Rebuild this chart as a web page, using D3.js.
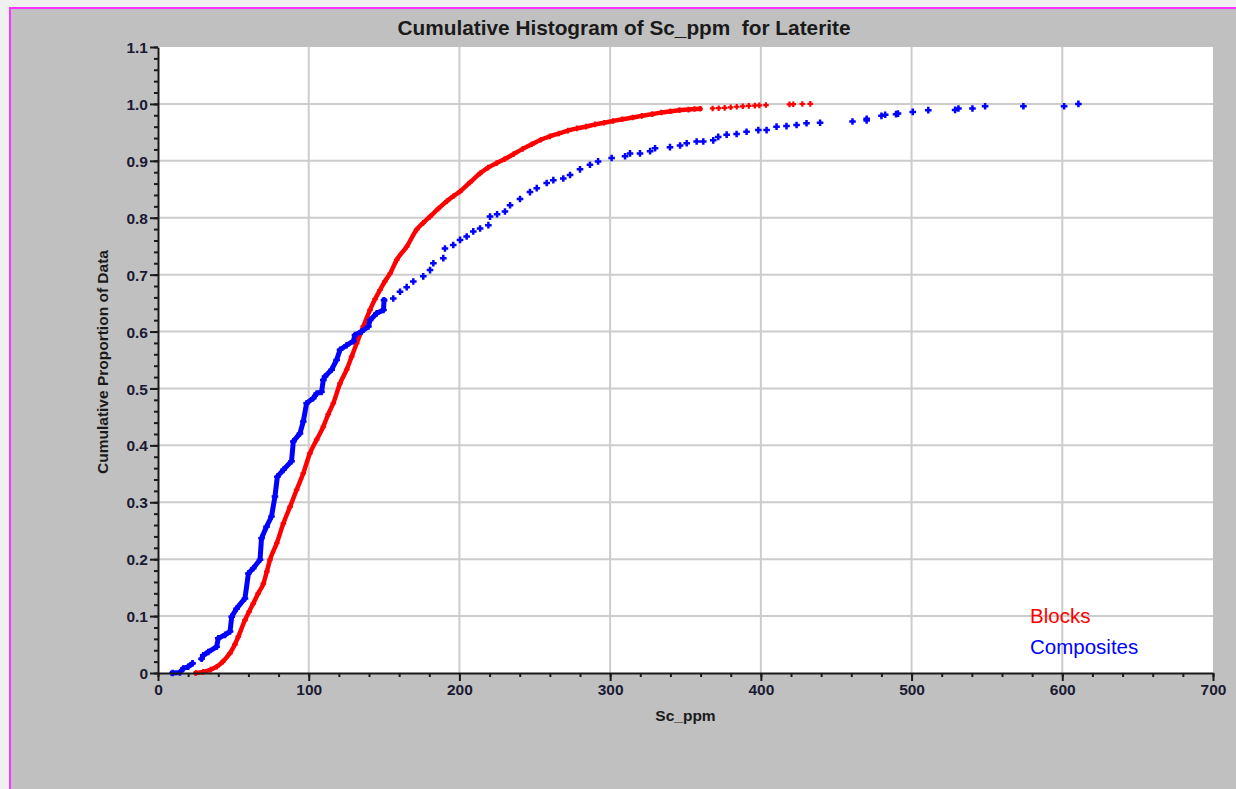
<!DOCTYPE html>
<html>
<head>
<meta charset="utf-8">
<script src="https://cdn.jsdelivr.net/npm/d3@7"></script>
<style>
  html, body { margin: 0; padding: 0; background: #c0c0c0; }
  svg { display: block; }
</style>
</head>
<body>
<svg id="chart" width="1236" height="789"></svg>
<script>
// Sc_ppm value and cumulative proportion for block model estimates
const blocksSc = [
  25.2, 30, 35, 39, 43, 47.8, 51, 53.3, 57.7, 60.5, 63.2, 66.5, 69.9, 72.2, 74.3,
  78.8, 83.2, 87.6, 92, 96.4, 100.8, 105.3, 109.7, 113, 116.3, 120.8, 125.2, 128.5,
  131.8, 136.2, 140.7, 144, 147.3, 150.5, 154, 158.4, 165, 171.6, 176, 180.5, 186,
  191.6, 196, 200.4, 207, 213.7, 219, 224.7, 230, 236, 242, 248, 254, 260, 266, 272,
  278, 284, 290, 296, 302, 308, 315, 321, 328, 334, 340, 346, 352, 356, 359.6,
  368, 372, 376, 380, 384, 388, 392, 396, 399, 403.4, 419, 421.5, 427.5, 432.8
];
const blocksProp = [
  0, 0.002, 0.006, 0.011, 0.02, 0.035, 0.05, 0.064, 0.093, 0.108, 0.122, 0.14, 0.157, 0.178, 0.199,
  0.228, 0.263, 0.292, 0.322, 0.351, 0.386, 0.41, 0.433, 0.455, 0.474, 0.509, 0.533, 0.556,
  0.579, 0.609, 0.638, 0.657, 0.673, 0.688, 0.702, 0.726, 0.749, 0.779, 0.791, 0.802, 0.816,
  0.829, 0.838, 0.846, 0.862, 0.878, 0.888, 0.896, 0.903, 0.912, 0.921, 0.929, 0.937, 0.943, 0.948, 0.953,
  0.957, 0.960, 0.964, 0.967, 0.970, 0.973, 0.976, 0.979, 0.982, 0.985, 0.987, 0.989, 0.990, 0.991, 0.9915,
  0.992, 0.9925, 0.993, 0.994, 0.995, 0.9958, 0.9965, 0.997, 0.9975, 0.998, 0.9992, 0.9995, 0.9998, 1.0
];

// Sc_ppm value and cumulative proportion for drillhole composites
const compositesSc = [
  9.7, 14.6, 16.8, 20, 22.9, 28.9, 30, 33.4, 38.9, 40, 44.5, 47.8, 48.9, 52.1, 57.7,
  60, 63.2, 67.7, 68.7, 72, 75.3, 77.6, 79.2, 83.2, 88.6, 89.8, 94.2, 96.4, 98.6, 103,
  105.3, 108.5, 109.7, 110.8, 115.2, 118.5, 120.8, 125.2, 129.6, 130.7, 135.1, 139.6,
  140.7, 145.1, 149.6, 150, 156.1, 160.6, 165, 169.4, 176, 180.5, 182.7, 189.3, 190.4,
  195.9, 200.4, 204.8, 209.2, 213.7, 219.2, 220.3, 225, 230.2, 233.6, 240.2, 246.8,
  251.3, 257.9, 262.3, 268.9, 273.4, 280, 286.6, 292, 301, 309.9, 313.2, 319.8, 326.5,
  329.8, 339.7, 346.4, 350.8, 357.4, 361.8, 368.4, 371.7, 377.3, 383.9, 390.5, 398.3,
  403.8, 410.4, 417, 423.7, 430.3, 439.3, 460.8, 470.2, 470.2, 480, 482.5, 489.7, 491,
  500.8, 511.1, 528.9, 531.1, 540.4, 548.8, 574.2, 601.2, 610.7
];
const compositesProp = [
  0, 0.001, 0.008, 0.011, 0.017, 0.025, 0.031, 0.037, 0.046, 0.061, 0.067, 0.073, 0.099, 0.113, 0.131,
  0.175, 0.184, 0.199, 0.237, 0.257, 0.275, 0.31, 0.345, 0.357, 0.372, 0.407, 0.421, 0.442, 0.474, 0.483,
  0.491, 0.494, 0.515, 0.521, 0.533, 0.55, 0.568, 0.576, 0.583, 0.594, 0.6, 0.609,
  0.62, 0.632, 0.638, 0.655, 0.658, 0.67, 0.678, 0.688, 0.697, 0.708, 0.72, 0.729, 0.746,
  0.752, 0.761, 0.767, 0.776, 0.781, 0.787, 0.802, 0.806, 0.811, 0.822, 0.833, 0.845,
  0.852, 0.861, 0.866, 0.869, 0.875, 0.885, 0.893, 0.899, 0.905, 0.908, 0.913, 0.913, 0.917,
  0.922, 0.924, 0.927, 0.931, 0.934, 0.934, 0.936, 0.942, 0.946, 0.947, 0.951, 0.954,
  0.954, 0.96, 0.961, 0.963, 0.966, 0.967, 0.969, 0.974, 0.971, 0.979, 0.981, 0.982, 0.983,
  0.986, 0.989, 0.9895, 0.992, 0.992, 0.996, 0.996, 0.996, 1.0
];

const xTicks = [0, 100, 200, 300, 400, 500, 600, 700];
const yTicks = [0, 0.1, 0.2, 0.3, 0.4, 0.5, 0.6, 0.7, 0.8, 0.9, 1.0, 1.1];
const seriesNames = ["Blocks", "Composites"];
const seriesColors = ["#ff0000", "#0000ff"];

const svg = d3.select("#chart");
const W = 1236, H = 789;
const plot = { left: 158, right: 1213, top: 47, bottom: 673 };

// window frame
svg.append("rect").attr("width", W).attr("height", H).attr("fill", "#c0c0c0");
svg.append("rect").attr("width", W).attr("height", 7).attr("fill", "#f0f0f0");
svg.append("rect").attr("width", 9).attr("height", H).attr("fill", "#f0f0f0");
svg.append("rect").attr("x", 9).attr("y", 7).attr("width", W - 9).attr("height", 2).attr("fill", "#ff33ff");
svg.append("rect").attr("x", 9).attr("y", 7).attr("width", 2).attr("height", H - 7).attr("fill", "#ff33ff");

const x = d3.scaleLinear().domain([0, 700]).range([plot.left, plot.right]);
const y = d3.scaleLinear().domain([0, 1.1]).range([plot.bottom, plot.top]);

// plot area
svg.append("rect")
  .attr("x", plot.left).attr("y", plot.top)
  .attr("width", plot.right - plot.left).attr("height", plot.bottom - plot.top)
  .attr("fill", "#ffffff");

// grid
const grid = svg.append("g").attr("stroke", "#cccccc").attr("stroke-width", 2);
grid.selectAll("line.v").data(xTicks.filter(d => d > 0 && d < 700)).join("line")
  .attr("x1", d => x(d)).attr("x2", d => x(d))
  .attr("y1", plot.top).attr("y2", plot.bottom);
grid.selectAll("line.h").data(yTicks.filter(d => d > 0 && d < 1.1)).join("line")
  .attr("x1", plot.left).attr("x2", plot.right)
  .attr("y1", d => y(d)).attr("y2", d => y(d));

// series: where samples crowd together they merge into a solid band;
// in the sparse upper tail each sample stands alone as a plus marker
function drawSeries(xs, ps, color, gapPx, bandMax, bandWidth, arm, armWidth, curve) {
  const pts = xs.map((v, i) => [v, ps[i]]);
  const runs = [];
  let cur = [pts[0]];
  for (let i = 1; i < pts.length; i++) {
    const close = Math.abs(x(pts[i][0]) - x(pts[i - 1][0])) <= gapPx;
    if (close && pts[i][1] <= bandMax) cur.push(pts[i]);
    else { runs.push(cur); cur = [pts[i]]; }
  }
  runs.push(cur);
  const line = d3.line().x(d => x(d[0])).y(d => y(d[1])).curve(curve);
  const g = svg.append("g");
  g.selectAll("path.run").data(runs.filter(r => r.length > 1)).join("path")
    .attr("d", line)
    .attr("fill", "none")
    .attr("stroke", color)
    .attr("stroke-width", bandWidth)
    .attr("stroke-linejoin", "round")
    .attr("stroke-linecap", "square");
  g.selectAll("path.pt").data(pts).join("path")
    .attr("transform", d => `translate(${x(d[0])},${y(d[1])})`)
    .attr("d", `M${-arm},0H${arm}M0,${-arm}V${arm}`)
    .attr("stroke", color)
    .attr("stroke-width", armWidth)
    .attr("fill", "none");
}
drawSeries(blocksSc, blocksProp, seriesColors[0], 11, 0.9915, 4.5, 2.8, 2.2, d3.curveMonotoneX);
drawSeries(compositesSc, compositesProp, seriesColors[1], 8.5, 0.655, 5, 3.3, 2.5, d3.curveLinear);

// axes
const labelColor = "#1a1a33";
const axisFont = "'Liberation Sans', Arial, sans-serif";

const yMinor = d3.range(0, 1.1001, 0.02);
const xMinor = d3.range(0, 700.01, 20);

const yAxis = svg.append("g").attr("transform", `translate(${plot.left},0)`)
  .call(d3.axisLeft(y).tickValues(yTicks).tickSize(8).tickSizeOuter(0)
    .tickFormat(d => d === 0 ? "0" : d3.format(".1f")(d)));
svg.append("g").attr("transform", `translate(${plot.left},0)`)
  .call(d3.axisLeft(y).tickValues(yMinor).tickSize(4).tickSizeOuter(0).tickFormat(""))
  .call(g => g.select(".domain").remove());

const xAxis = svg.append("g").attr("transform", `translate(0,${plot.bottom})`)
  .call(d3.axisBottom(x).tickValues(xTicks).tickSize(8).tickSizeOuter(0).tickFormat(d3.format("d")));
svg.append("g").attr("transform", `translate(0,${plot.bottom})`)
  .call(d3.axisBottom(x).tickValues(xMinor).tickSize(4).tickSizeOuter(0).tickFormat(""))
  .call(g => g.select(".domain").remove());

svg.selectAll(".domain").attr("stroke", "#1a1a1a").attr("stroke-width", 2);
svg.selectAll(".tick line").attr("stroke", "#1a1a1a").attr("stroke-width", 2);
svg.selectAll(".tick text")
  .attr("font-family", axisFont).attr("font-weight", "bold")
  .attr("font-size", 15.5).attr("fill", labelColor);
yAxis.selectAll(".tick text").attr("x", -10).attr("dy", "0.36em");
xAxis.selectAll(".tick text").attr("y", 11).attr("dy", "0.71em");

// titles
svg.append("text")
  .attr("x", 624).attr("y", 35)
  .attr("text-anchor", "middle")
  .attr("font-family", axisFont).attr("font-weight", "bold").attr("font-size", 20.8)
  .attr("fill", "#1a1a1a")
  .text("Cumulative Histogram of Sc_ppm\u00a0\u00a0for Laterite");

svg.append("text")
  .attr("x", (plot.left + plot.right) / 2).attr("y", 721)
  .attr("text-anchor", "middle")
  .attr("font-family", axisFont).attr("font-weight", "bold").attr("font-size", 15.5)
  .attr("fill", "#1a1a1a")
  .text("Sc_ppm");

svg.append("text")
  .attr("transform", "translate(108,362) rotate(-90)")
  .attr("text-anchor", "middle")
  .attr("font-family", axisFont).attr("font-weight", "bold").attr("font-size", 15.5)
  .attr("fill", "#1a1a1a")
  .text("Cumulative Proportion of Data");

// legend
const legend = svg.append("g");
legend.selectAll("text").data(seriesNames).join("text")
  .attr("x", 1030)
  .attr("y", (d, i) => 623 + i * 30.5)
  .attr("font-family", axisFont).attr("font-size", 20.5)
  .attr("fill", (d, i) => seriesColors[i])
  .text(d => d);
</script>
</body>
</html>
